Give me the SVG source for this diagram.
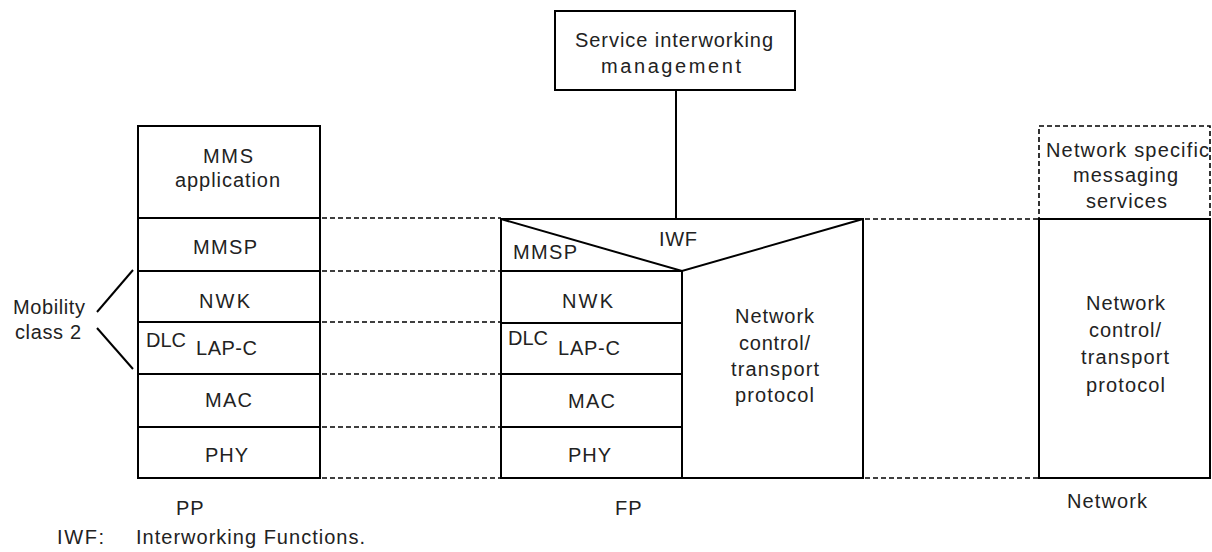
<svg xmlns="http://www.w3.org/2000/svg" width="1212" height="552" viewBox="0 0 1212 552">
<style>
.b{fill:none;stroke:#000;stroke-width:2}
.d{fill:none;stroke:#000;stroke-width:1.6;stroke-dasharray:5,3}
text{font-family:"Liberation Sans",Arial,sans-serif;font-size:20px;fill:#222}
</style>
<rect width="1212" height="552" fill="#fff"/>
<g id="connectors">
<line class="b" x1="676" y1="90" x2="676" y2="219"/>
<line class="d" x1="322" y1="218" x2="501" y2="218"/>
<line class="d" x1="322" y1="271" x2="501" y2="271"/>
<line class="d" x1="322" y1="322" x2="501" y2="322"/>
<line class="d" x1="322" y1="374" x2="501" y2="374"/>
<line class="d" x1="322" y1="427" x2="501" y2="427"/>
<line class="d" x1="322" y1="478" x2="501" y2="478"/>
<line class="d" x1="865" y1="219" x2="1039" y2="219"/>
<line class="d" x1="865" y1="478" x2="1039" y2="478"/>
<line class="b" x1="97" y1="312" x2="133" y2="270" stroke-width="1.6"/>
<line class="b" x1="97" y1="328" x2="133" y2="369" stroke-width="1.6"/>
</g>
<g id="service">
<rect class="b" x="555" y="11" width="240" height="79"/>
<text x="575" y="47" textLength="198" lengthAdjust="spacing">Service interworking</text>
<text x="601" y="73" textLength="140" lengthAdjust="spacing">management</text>
</g>
<g id="pp">
<rect class="b" x="138" y="126" width="182" height="352"/>
<line class="b" x1="138" y1="218" x2="320" y2="218"/>
<line class="b" x1="138" y1="271" x2="320" y2="271"/>
<line class="b" x1="138" y1="322" x2="320" y2="322"/>
<line class="b" x1="138" y1="374" x2="320" y2="374"/>
<line class="b" x1="138" y1="427" x2="320" y2="427"/>
<text x="203" y="163" textLength="50" lengthAdjust="spacing">MMS</text>
<text x="175" y="187" textLength="105" lengthAdjust="spacing">application</text>
<text x="193" y="254" textLength="64" lengthAdjust="spacing">MMSP</text>
<text x="199" y="308" textLength="51" lengthAdjust="spacing">NWK</text>
<text x="146" y="347" textLength="40" lengthAdjust="spacing">DLC</text>
<text x="196" y="355" textLength="61" lengthAdjust="spacing">LAP-C</text>
<text x="205" y="407" textLength="47" lengthAdjust="spacing">MAC</text>
<text x="205" y="462" textLength="43" lengthAdjust="spacing">PHY</text>
<text x="176" y="515" letter-spacing="1">PP</text>
</g>
<g id="mobility">
<text x="13" y="314" textLength="72" lengthAdjust="spacing">Mobility</text>
<text x="15" y="339" textLength="66" lengthAdjust="spacing">class 2</text>
</g>
<g id="fp">
<rect class="b" x="501" y="219" width="362" height="259"/>
<polyline class="b" points="501,219 682,271 863,219"/>
<line class="b" x1="682" y1="271" x2="682" y2="478"/>
<line class="b" x1="501" y1="271" x2="682" y2="271"/>
<line class="b" x1="501" y1="323" x2="682" y2="323"/>
<line class="b" x1="501" y1="374" x2="682" y2="374"/>
<line class="b" x1="501" y1="427" x2="682" y2="427"/>
<text x="513" y="259" textLength="64" lengthAdjust="spacing">MMSP</text>
<text x="659" y="246" textLength="38" lengthAdjust="spacing">IWF</text>
<text x="562" y="308" textLength="51" lengthAdjust="spacing">NWK</text>
<text x="508" y="345" textLength="40" lengthAdjust="spacing">DLC</text>
<text x="558" y="355" textLength="62" lengthAdjust="spacing">LAP-C</text>
<text x="568" y="408" textLength="47" lengthAdjust="spacing">MAC</text>
<text x="568" y="462" textLength="43" lengthAdjust="spacing">PHY</text>
<text x="735" y="323" textLength="79" lengthAdjust="spacing">Network</text>
<text x="739" y="350" textLength="71" lengthAdjust="spacing">control/</text>
<text x="731" y="376" textLength="88" lengthAdjust="spacing">transport</text>
<text x="735" y="402" textLength="79" lengthAdjust="spacing">protocol</text>
<text x="615" y="515" letter-spacing="1">FP</text>
</g>
<g id="network">
<rect class="d" x="1039" y="126" width="171" height="93"/>
<rect class="b" x="1039" y="219" width="171" height="259"/>
<text x="1046" y="157" textLength="163" lengthAdjust="spacing">Network specific</text>
<text x="1073" y="182" textLength="105" lengthAdjust="spacing">messaging</text>
<text x="1086" y="208" textLength="81" lengthAdjust="spacing">services</text>
<text x="1086" y="310" textLength="79" lengthAdjust="spacing">Network</text>
<text x="1089" y="337" textLength="72" lengthAdjust="spacing">control/</text>
<text x="1081" y="364" textLength="88" lengthAdjust="spacing">transport</text>
<text x="1086" y="392" textLength="79" lengthAdjust="spacing">protocol</text>
<text x="1067" y="508" textLength="80" lengthAdjust="spacing">Network</text>
</g>
<g id="legend">
<text x="57" y="544" textLength="47" lengthAdjust="spacing">IWF:</text>
<text x="136" y="544" textLength="229" lengthAdjust="spacing">Interworking Functions.</text>
</g>
</svg>
